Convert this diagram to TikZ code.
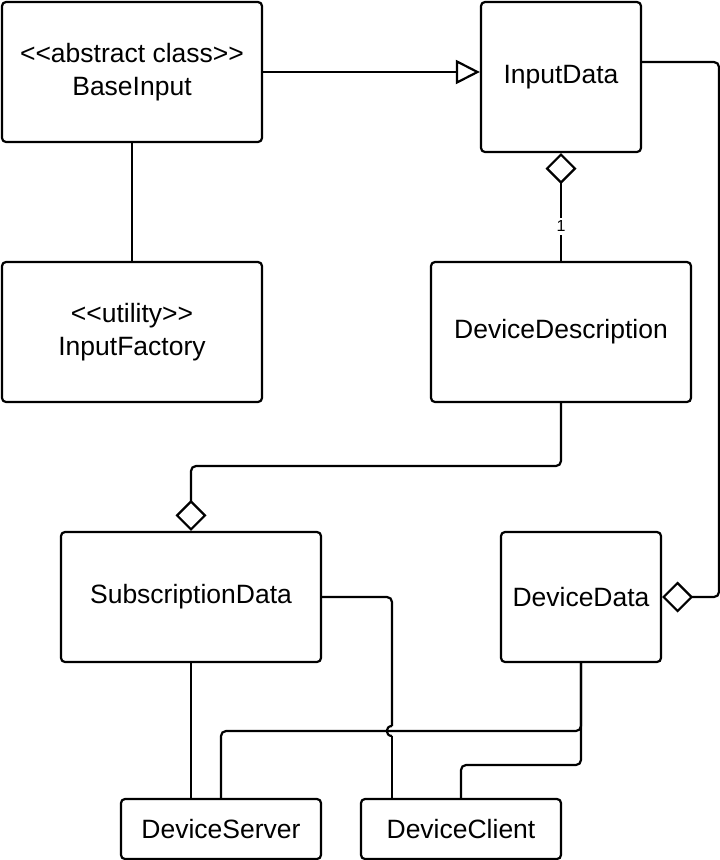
\documentclass[tikz,border=0pt]{standalone}
\usepackage{fontspec}
\newfontfamily\uml{Liberation Sans}
\usetikzlibrary{arrows.meta}
\tikzset{
  dia/.tip={Diamond[open,length=31pt 0,width=31pt 0]},
  tri/.tip={Triangle[open,length=24pt 0,width=24pt 0]}}
\begin{document}
\begin{tikzpicture}[x=1pt,y=-1pt,
  cls/.style={draw, line width=2.2pt, rounded corners=4pt, align=center, inner sep=0pt,
    font=\uml\fontsize{26.5}{33}\selectfont},
  conn/.style={line width=2.2pt, rounded corners=5pt}]
\useasboundingbox[fill=white] (0,0) rectangle (720,860);
\node[cls, minimum width=260pt, minimum height=140pt] (bi) at (132,72) {<<abstract class>>\\BaseInput};
\node[cls, minimum width=160pt, minimum height=150pt] (id) at (561,77) {InputData};
\node[cls, minimum width=260pt, minimum height=140pt] (if) at (132,332) {<<utility>>\\InputFactory};
\node[cls, minimum width=260pt, minimum height=140pt] (dd) at (561,332) {DeviceDescription};
\node[cls, minimum width=260pt, minimum height=130pt] (sd) at (191,597) {SubscriptionData};
\node[cls, minimum width=160pt, minimum height=130pt] (dev) at (581,597) {DeviceData};
\node[cls, minimum width=200pt, minimum height=60pt] (ds) at (221,829) {DeviceServer};
\node[cls, minimum width=200pt, minimum height=60pt] (dc) at (461,829) {DeviceClient};
\coordinate (e1) at (719,62);
\coordinate (h1) at (0,466);
\coordinate (j) at (392,731);
\coordinate (k) at (0,765);
% generalization
\draw[conn, -tri] (bi.east) -- (id.west |- bi.east);
\draw[conn] (bi.south) -- (if.north);
% aggregation InputData - DeviceDescription
\draw[conn, dia-] (id.south) -- (dd.north);
\node[fill=white, inner sep=3pt, font=\uml\fontsize{16}{18}\selectfont] (one) at (561,226) {1};
% InputData - DeviceData
\draw[conn, -dia] (id.east |- e1) -- (e1) |- (dev.east);
% DeviceDescription - SubscriptionData
\draw[conn, -dia] (dd.south) -- (dd.south |- h1) -| (sd.north);
% SubscriptionData - DeviceClient (with jump)
\draw[conn] (sd.east) -| ([yshift=5pt]j);
\draw[line width=2.2pt] ([yshift=5pt]j)
  .. controls ([xshift=-7pt,yshift=5pt]j) and ([xshift=-7pt,yshift=-5pt]j) .. ([yshift=-5pt]j);
\draw[conn] ([yshift=-5pt]j) -- (dc.north -| j);
\draw[conn] (sd.south) -- (ds.north -| sd.south);
\draw[conn] (dev.south) -- (dev.south |- j) -| (ds.north);
\draw[conn] (dev.south) -- (dev.south |- k) -| (dc.north);
\end{tikzpicture}
\end{document}
